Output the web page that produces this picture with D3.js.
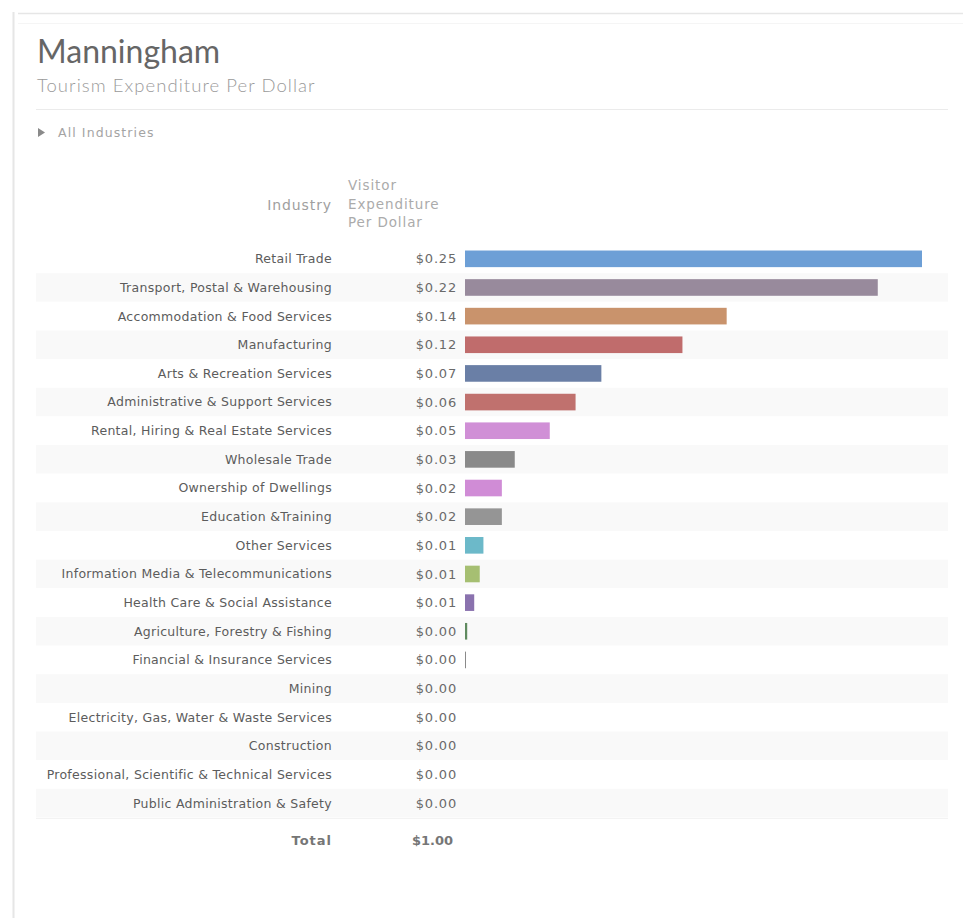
<!DOCTYPE html>
<html>
<head>
<meta charset="utf-8">
<script src="https://cdn.jsdelivr.net/npm/d3@7"></script>
<style>
  html, body { margin: 0; padding: 0; background: #fff; }
  svg { display: block; }
</style>
</head>
<body>
<svg id="chart" width="963" height="918"></svg>
<script>
// Industries, ordered as listed in the table
const industries = [
  "Retail Trade",
  "Transport, Postal & Warehousing",
  "Accommodation & Food Services",
  "Manufacturing",
  "Arts & Recreation Services",
  "Administrative & Support Services",
  "Rental, Hiring & Real Estate Services",
  "Wholesale Trade",
  "Ownership of Dwellings",
  "Education &Training",
  "Other Services",
  "Information Media & Telecommunications",
  "Health Care & Social Assistance",
  "Agriculture, Forestry & Fishing",
  "Financial & Insurance Services",
  "Mining",
  "Electricity, Gas, Water & Waste Services",
  "Construction",
  "Professional, Scientific & Technical Services",
  "Public Administration & Safety"
];

// Visitor expenditure per dollar spent in the region
const expenditure = [
  0.248, 0.224, 0.142, 0.118, 0.074, 0.060, 0.046, 0.027, 0.020, 0.020,
  0.010, 0.008, 0.005, 0.0012, 0.0005, 0, 0, 0, 0, 0
];

const barColors = [
  "#6d9fd6", "#988a9c", "#c9936c", "#c06c6c", "#6a7fa6", "#c0716e", "#d08fd6",
  "#8a8a8a", "#d08cd6", "#959595", "#6cb9c9", "#a6bf72", "#8a72ae", "#5f8a5f",
  "#8a8a8a", "#999", "#999", "#999", "#999", "#999"
];

const title = "Manningham";
const subtitle = "Tourism Expenditure Per Dollar";
const filterLabel = "All Industries";
const headerIndustry = "Industry";
const headerValue = ["Visitor", "Expenditure", "Per Dollar"];
const totalLabel = "Total";

const rows = industries.map((name, i) => ({ name, value: expenditure[i], color: barColors[i] }));
const total = d3.sum(expenditure);
const money = d3.format("$.2f");

const svg = d3.select("#chart");
const uiFont = "Lato, 'Open Sans', sans-serif";
const tableFont = "'DejaVu Sans', Verdana, sans-serif";

// Panel frame
svg.append("line").attr("x1", 13.5).attr("x2", 13.5).attr("y1", 12).attr("y2", 918)
  .attr("stroke", "#e6e6e6").attr("stroke-width", 2);
svg.append("line").attr("x1", 18).attr("x2", 963).attr("y1", 13.5).attr("y2", 13.5)
  .attr("stroke", "#e6e6e6").attr("stroke-width", 1.5);
svg.append("line").attr("x1", 18).attr("x2", 963).attr("y1", 23.5).attr("y2", 23.5)
  .attr("stroke", "#f5f5f5").attr("stroke-width", 1);

// Heading
svg.append("text").attr("x", 37).attr("y", 63).text(title)
  .attr("font-family", uiFont).attr("font-size", 32).attr("fill", "#666");
svg.append("text").attr("x", 37).attr("y", 92).text(subtitle)
  .attr("font-family", uiFont).attr("font-weight", 300).attr("font-size", 18.5)
  .attr("letter-spacing", 1.05).attr("fill", "#9a9a9a");
svg.append("line").attr("x1", 36).attr("x2", 948).attr("y1", 109.5).attr("y2", 109.5)
  .attr("stroke", "#ebebeb");

// Filter toggle
svg.append("path").attr("d", "M38,128 L45,132.5 L38,137 Z").attr("fill", "#8a8a8a");
svg.append("text").attr("x", 58).attr("y", 137).text(filterLabel)
  .attr("font-family", tableFont).attr("font-size", 12.5).attr("letter-spacing", 1.1)
  .attr("fill", "#a4a4a4");

// Table geometry
const labelRight = 332;
const valueRight = 457;
const barLeft = 465;
const tableLeft = 36, tableRight = 948;

const y = d3.scaleBand()
  .domain(d3.range(rows.length))
  .range([244.5, 817.5])
  .paddingInner(0.42).paddingOuter(0.21);
const x = d3.scaleLinear().domain([0, d3.max(expenditure)]).range([0, 457]);

const step = y.step();

// Column headers
svg.append("text").attr("x", labelRight).attr("y", 210).attr("text-anchor", "end")
  .text(headerIndustry).attr("font-family", tableFont).attr("font-size", 14)
  .attr("letter-spacing", 0.9).attr("fill", "#a0a0a0");
svg.append("text").attr("font-family", tableFont).attr("font-size", 13.5)
  .attr("letter-spacing", 0.9).attr("fill", "#ababab")
  .selectAll("tspan").data(headerValue).join("tspan")
  .attr("x", 348).attr("y", (d, i) => 190 + i * 18.5).text(d => d);

// Alternating row shading
const rowG = svg.append("g");
rowG.selectAll("rect.stripe").data(rows).join("rect")
  .attr("class", "stripe")
  .attr("x", tableLeft)
  .attr("y", (d, i) => y(i) + y.bandwidth() / 2 - step / 2)
  .attr("width", tableRight - tableLeft)
  .attr("height", step)
  .attr("fill", (d, i) => i % 2 ? "#f9f9f9" : "#ffffff");
svg.append("line").attr("x1", tableLeft).attr("x2", tableRight)
  .attr("y1", 818.5).attr("y2", 818.5).attr("stroke", "#f3f3f3");

// Industry names
rowG.selectAll("text.name").data(rows).join("text")
  .attr("class", "name")
  .attr("x", labelRight)
  .attr("y", (d, i) => y(i) + y.bandwidth() / 2)
  .attr("dy", "0.35em")
  .attr("text-anchor", "end")
  .attr("font-family", tableFont).attr("font-size", 12.5).attr("letter-spacing", 0.3)
  .attr("fill", "#5c5c5c")
  .text(d => d.name);

// Values
rowG.selectAll("text.val").data(rows).join("text")
  .attr("class", "val")
  .attr("x", valueRight)
  .attr("y", (d, i) => y(i) + y.bandwidth() / 2)
  .attr("dy", "0.35em")
  .attr("text-anchor", "end")
  .attr("font-family", tableFont).attr("font-size", 13).attr("letter-spacing", 0.8)
  .attr("fill", "#6a6a6a")
  .text(d => money(d.value));

// Bars
rowG.selectAll("rect.bar").data(rows.filter(d => d.value > 0)).join("rect")
  .attr("class", "bar")
  .attr("x", barLeft)
  .attr("y", d => y(rows.indexOf(d)))
  .attr("width", d => Math.max(1, x(d.value)))
  .attr("height", y.bandwidth())
  .attr("fill", d => d.color);

// Total row
svg.append("text").attr("x", labelRight).attr("y", 845).attr("text-anchor", "end")
  .text(totalLabel).attr("font-family", tableFont).attr("font-size", 13)
  .attr("letter-spacing", 1).attr("font-weight", "bold").attr("fill", "#767676");
svg.append("text").attr("x", 453).attr("y", 845).attr("text-anchor", "end")
  .text(money(total)).attr("font-family", tableFont).attr("font-size", 13)
  .attr("letter-spacing", 0).attr("font-weight", "bold").attr("fill", "#767676");
</script>
</body>
</html>
